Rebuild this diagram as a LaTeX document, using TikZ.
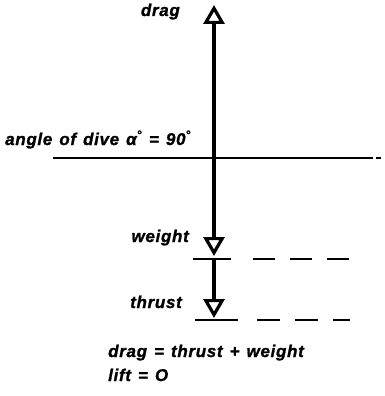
\documentclass[tikz,border=0pt]{standalone}
\usepackage{fontspec}
\setmainfont{Liberation Sans}
\usetikzlibrary{arrows.meta}
\newfontfamily\lblfont[LetterSpace=4, WordSpace=1.3, BoldItalicFeatures={FakeBold=1.2}]{Liberation Sans}
\tikzset{
  every picture/.style={line join=round, x=1pt, y=-1pt},
  lbl/.style={font=\lblfont\fontsize{17}{19}\selectfont\bfseries\itshape, inner sep=0pt},
  force/.style={line width=3.8pt, -{Triangle[open, length=19pt, width=21pt, line width=3.2pt]}},
  level/.style={line width=2.4pt},
}

\begin{document}
\begin{tikzpicture}
\useasboundingbox (0,0) rectangle (384,396);
\coordinate (origin) at (214,158);
\coordinate (dragtip) at (214,5);
\coordinate (weighttip) at (214,256);
\coordinate (weightlvl) at (214,259);
\coordinate (thrusttip) at (214,318);
\draw[level] (53,158) -- (373,158);
\draw[level] (376,158) -- (381,158);
\draw[level] (193,259) -- (231,259);
\draw[level, dash pattern=on 22pt off 15pt] (253,259) -- (349,259);
\draw[level] (195,320) -- (238,320);
\draw[level, dash pattern=on 23pt off 15pt] (257,320) -- (350,320);
\draw[force] (origin) -- (dragtip);
\draw[force] (origin) -- (weighttip);
\draw[force] (weightlvl) -- (thrusttip);
\node[lbl, anchor=base east] (drag) at (180,16) {drag};
\node[lbl, anchor=base west] (angle) at (5,145) {angle of dive α\textsuperscript{°} = 90\textsuperscript{°}};
\node[lbl, anchor=base east] (weight) at (189,242) {weight};
\node[lbl, anchor=base east] (thrust) at (182,308) {thrust};
\node[lbl, anchor=base west] (balance) at (108,357) {drag = thrust + weight};
\node[lbl, anchor=base west] (lift) at (108,381) {lift = O};
\end{tikzpicture}
\end{document}
